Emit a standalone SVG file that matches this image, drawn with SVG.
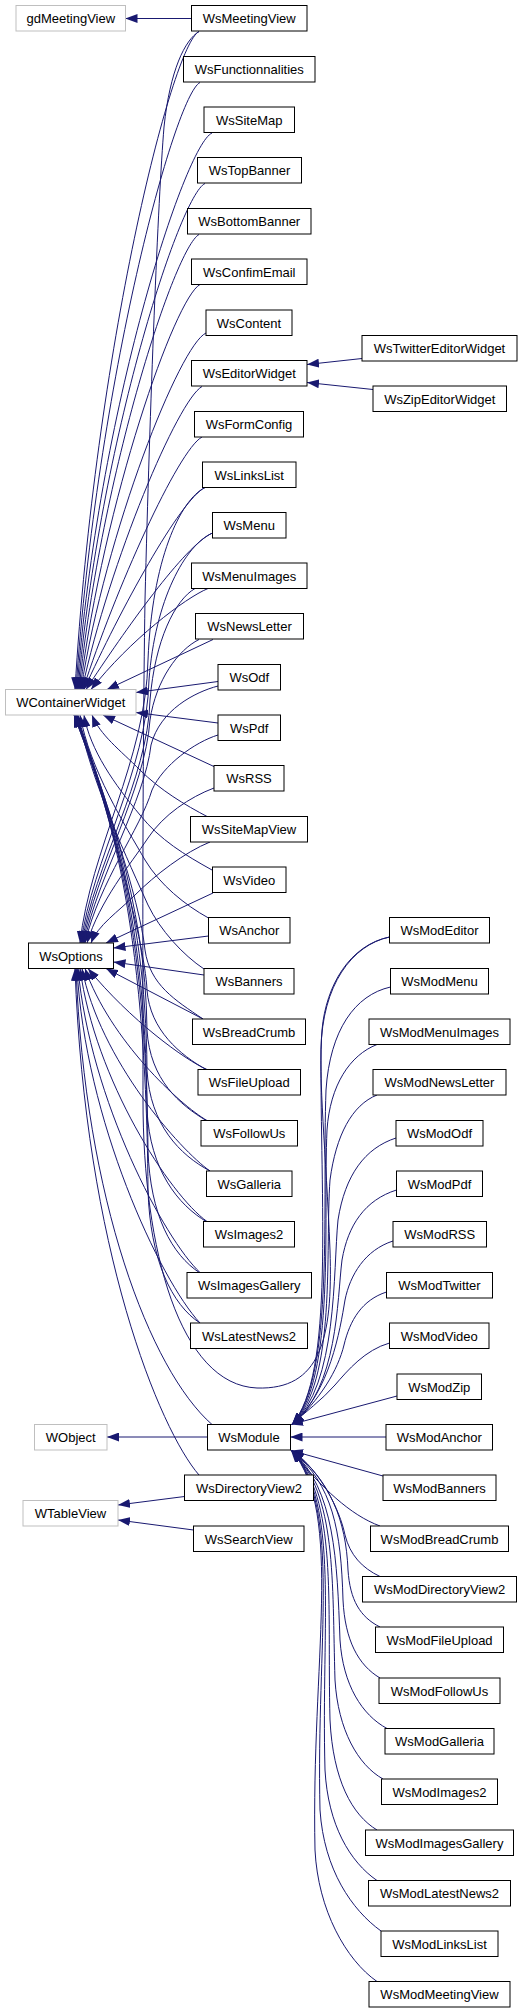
<svg xmlns="http://www.w3.org/2000/svg" width="531" height="2013" viewBox="0 0 531 2013">
<style>
.n rect{fill:#fff;stroke:#000;stroke-width:1}
.x rect{fill:#fff;stroke:#bfbfbf;stroke-width:1}
text{font-family:"Liberation Sans",Arial,sans-serif;font-size:13px;text-anchor:middle;fill:#000}
#edges path{fill:none;stroke:#191970;stroke-width:1;marker-end:url(#a)}
#edges path.na{marker-end:none}
</style>
<defs>
<marker id="a" viewBox="0 0 12 9" refX="12" refY="4.5" markerWidth="12" markerHeight="9" markerUnits="userSpaceOnUse" orient="auto"><path d="M0,0 L12,4.5 L0,9 Z" fill="#191970"/></marker>
</defs>
<rect width="531" height="2013" fill="#fff"/>
<g id="edges">
<path d="M191.5,18.5 L125.5,18.5"/>
<path d="M362,358.5 L307,364.5"/>
<path d="M373,389.5 L307,382.5"/>
<path d="M207.5,1437 L107,1437"/>
<path d="M184.5,1496.5 L118,1505"/>
<path d="M193.5,1530 L118,1520"/>
<path d="M199,31.5 C172,45 95,350 75,689.5"/>
<path d="M200,82.5 C175,95 97,380 76,689.5"/>
<path d="M212,133 C185,145 98,410 77,689.5"/>
<path d="M205,183.5 C180,195 100,440 78,689.5"/>
<path d="M199,234.5 C175,248 102,470 79,689.5"/>
<path d="M200,284.5 C175,298 104,500 80,689.5"/>
<path d="M206,333 C180,345 106,530 81,689.5"/>
<path d="M202,386.5 C178,400 110,560 82,689.5"/>
<path d="M202,437 C178,450 115,590 83,689.5"/>
<path d="M205,487.5 C180,500 120,610 84,689.5"/>
<path d="M212.5,533 C185,545 125,630 86,689.5"/>
<path d="M208,588.5 C185,598 130,640 91,689.5"/>
<path d="M213,639.5 L107,689.5"/>
<path d="M218,681.5 L136,692.5"/>
<path d="M218,723 L136,712.5"/>
<path d="M215,767 L103,715"/>
<path d="M208,817 C185,805 160,790 140,770 C120,750 100,735 92,715"/>
<path d="M212,870 C185,855 160,840 140,815 C115,785 90,750 84,715"/>
<path d="M208.5,918 C185,905 160,885 145,860 C125,825 90,770 80,715"/>
<path d="M204,969 C183,955 160,930 148,905 C130,865 90,780 78,715"/>
<path d="M203,1019 C175,1000 150,985 145,950 C140,900 102,790 77,715"/>
<path d="M207,1070 C180,1055 150,1030 147,990 C145,940 102,790 76,715"/>
<path d="M207,1121 C180,1105 150,1080 147,1030 C146,900 102,790 76,715"/>
<path d="M210,1171 C180,1155 150,1125 147,1070 C146,900 102,790 75,715"/>
<path d="M207,1222 C178,1205 150,1170 147,1110 C146,900 102,790 75,715"/>
<path d="M200,1273 C172,1255 150,1215 148,1150 C146,900 102,790 74,715"/>
<path d="M200,1323 C172,1305 150,1260 148,1190 C146,900 102,790 74,715"/>
<path d="M205,487.5 C180,500 152,560 148,660 C146,760 90,850 80,943"/>
<path d="M212.5,533 C185,545 155,600 149,680 C147,770 92,860 81,943"/>
<path d="M195,588.5 C175,600 155,640 150,700 C148,780 94,865 82,943"/>
<path d="M199,639.5 C178,650 156,680 150,720 C145,790 96,870 83,943"/>
<path d="M218,686 C195,692 160,710 151,745 C145,800 98,875 84,943"/>
<path d="M218,735 C195,742 163,765 152,790 C140,830 100,880 85,943"/>
<path d="M214,788 C190,797 163,815 148,838 C130,865 100,900 87,943"/>
<path d="M210,842 C185,852 155,875 135,895 C118,912 98,925 91,943"/>
<path d="M213,893 L106,943"/>
<path d="M208.5,936 L113.5,948"/>
<path d="M204,975 L113.5,962"/>
<path d="M203,1019 L106,968.5"/>
<path d="M207,1069.5 C185,1060 130,1020 88,968.5"/>
<path d="M207,1120.5 C180,1105 110,1040 85,968.5"/>
<path d="M210,1171 C180,1150 100,1060 82,968.5"/>
<path d="M207,1221.5 C170,1195 95,1080 80,968.5"/>
<path d="M200,1272.5 C165,1240 90,1100 78,968.5"/>
<path d="M200,1323 C160,1280 85,1120 77,968.5"/>
<path d="M212,1424.5 C150,1370 85,1200 76,968.5"/>
<path d="M199,1475 C160,1430 85,1250 75,968.5"/>
<path class="na" d="M199,31.5 C185,40 170,70 164,127 C158,200 150,400 145,600 C142,800 143,1000 143,1100 C143,1250 180,1385 257,1388 C320,1390 333,1340 330,1250 C326,1150 318,1080 322,1030 C326,985 350,945 389.5,937"/>
<path d="M389.5,937 C352,945 322,985 321,1050 C320,1200 335,1375 292,1424.5"/>
<path d="M390.5,987 C355,995 330,1030 326,1090 C322,1200 335,1378 292,1424.5"/>
<path d="M377,1044.5 C350,1055 330,1085 327,1130 C323,1220 336,1380 292,1424.5"/>
<path d="M377,1095 C352,1105 336,1135 330,1180 C325,1250 337,1382 292,1424.5"/>
<path d="M396,1138 C365,1148 345,1175 338,1220 C333,1270 338,1385 292,1424.5"/>
<path d="M396.5,1190 C365,1200 348,1225 342,1260 C337,1300 338,1388 292,1424.5"/>
<path d="M393,1241 C365,1250 350,1275 345,1300 C340,1330 330,1392 292,1424.5"/>
<path d="M386.5,1292 C362,1300 350,1320 344,1345 C338,1370 320,1400 292,1424.5"/>
<path d="M389.5,1343 C365,1350 348,1370 335,1385 C322,1400 305,1412 292,1424.5"/>
<path d="M397,1396 L291,1424.5"/>
<path d="M386,1437 L290.5,1437"/>
<path d="M383,1476 L291,1450.5"/>
<path d="M380,1526 C350,1515 322,1488 291,1450.5"/>
<path d="M380,1576.5 C362,1568 350,1555 345,1535 C340,1510 320,1470 292,1450.5"/>
<path d="M380,1627 C360,1617 350,1600 348,1570 C346,1520 330,1480 292,1450.5"/>
<path d="M380,1678 C358,1665 345,1640 343,1600 C341,1530 333,1485 292,1450.5"/>
<path d="M387,1728.5 C362,1715 343,1685 340,1640 C337,1560 335,1490 292,1450.5"/>
<path d="M383,1779 C358,1765 338,1730 335,1680 C332,1580 337,1495 292,1450.5"/>
<path d="M377,1830 C352,1815 333,1780 330,1720 C327,1600 338,1500 292,1450.5"/>
<path d="M377,1880.5 C350,1862 328,1825 325,1770 C321,1620 340,1505 292,1450.5"/>
<path d="M381,1931 C352,1910 324,1870 320,1810 C316,1640 342,1510 292,1450.5"/>
<path d="M377,1981.5 C346,1960 318,1910 315,1850 C311,1660 344,1515 292,1450.5"/>
</g>
<g id="gdMeetingView" class="x"><rect x="16" y="5.5" width="109.5" height="25.5"/><text x="70.75" y="23">gdMeetingView</text></g>
<g id="WContainerWidget" class="x"><rect x="5.5" y="689.5" width="130.5" height="25.5"/><text x="70.75" y="707">WContainerWidget</text></g>
<g id="WsOptions" class="n"><rect x="28.5" y="943" width="85" height="25.5"/><text x="71" y="960.5">WsOptions</text></g>
<g id="WObject" class="x"><rect x="34.5" y="1424.5" width="72.5" height="25.5"/><text x="70.75" y="1442">WObject</text></g>
<g id="WTableView" class="x"><rect x="23" y="1500.5" width="95" height="25.5"/><text x="70.5" y="1518">WTableView</text></g>
<g id="WsMeetingView" class="n"><rect x="191.5" y="5.5" width="115.5" height="25.5"/><text x="249.25" y="23">WsMeetingView</text></g>
<g id="WsFunctionnalities" class="n"><rect x="183.5" y="56.5" width="131.5" height="25.5"/><text x="249.25" y="74">WsFunctionnalities</text></g>
<g id="WsSiteMap" class="n"><rect x="204" y="107" width="90.5" height="25.5"/><text x="249.25" y="124.5">WsSiteMap</text></g>
<g id="WsTopBanner" class="n"><rect x="197.5" y="157.5" width="104" height="25.5"/><text x="249.5" y="175">WsTopBanner</text></g>
<g id="WsBottomBanner" class="n"><rect x="187.5" y="208.5" width="123.5" height="25.5"/><text x="249.25" y="226">WsBottomBanner</text></g>
<g id="WsConfimEmail" class="n"><rect x="191.5" y="259" width="115.5" height="25.5"/><text x="249.25" y="276.5">WsConfimEmail</text></g>
<g id="WsContent" class="n"><rect x="206" y="310" width="86" height="25.5"/><text x="249" y="327.5">WsContent</text></g>
<g id="WsEditorWidget" class="n"><rect x="191.5" y="360.5" width="115.5" height="25.5"/><text x="249.25" y="378">WsEditorWidget</text></g>
<g id="WsFormConfig" class="n"><rect x="194.5" y="411.5" width="109" height="25.5"/><text x="249" y="429">WsFormConfig</text></g>
<g id="WsLinksList" class="n"><rect x="202.5" y="462" width="93.5" height="25.5"/><text x="249.25" y="479.5">WsLinksList</text></g>
<g id="WsMenu" class="n"><rect x="212.5" y="512.5" width="73.5" height="25.5"/><text x="249.25" y="530">WsMenu</text></g>
<g id="WsMenuImages" class="n"><rect x="191.5" y="563" width="115.5" height="25.5"/><text x="249.25" y="580.5">WsMenuImages</text></g>
<g id="WsNewsLetter" class="n"><rect x="195.5" y="613.5" width="108" height="25.5"/><text x="249.5" y="631">WsNewsLetter</text></g>
<g id="WsOdf" class="n"><rect x="218" y="664.5" width="62.5" height="25.5"/><text x="249.25" y="682">WsOdf</text></g>
<g id="WsPdf" class="n"><rect x="218" y="715" width="62.5" height="25.5"/><text x="249.25" y="732.5">WsPdf</text></g>
<g id="WsRSS" class="n"><rect x="214" y="765.5" width="70" height="25.5"/><text x="249" y="783">WsRSS</text></g>
<g id="WsSiteMapView" class="n"><rect x="190.5" y="816.5" width="117" height="25.5"/><text x="249" y="834">WsSiteMapView</text></g>
<g id="WsVideo" class="n"><rect x="212.5" y="867" width="73.5" height="25.5"/><text x="249.25" y="884.5">WsVideo</text></g>
<g id="WsAnchor" class="n"><rect x="208.5" y="917.5" width="81.5" height="25.5"/><text x="249.25" y="935">WsAnchor</text></g>
<g id="WsBanners" class="n"><rect x="204" y="968.5" width="90" height="25.5"/><text x="249" y="986">WsBanners</text></g>
<g id="WsBreadCrumb" class="n"><rect x="192.5" y="1019" width="113" height="25.5"/><text x="249" y="1036.5">WsBreadCrumb</text></g>
<g id="WsFileUpload" class="n"><rect x="198" y="1069.5" width="102.5" height="25.5"/><text x="249.25" y="1087">WsFileUpload</text></g>
<g id="WsFollowUs" class="n"><rect x="201" y="1120.5" width="96.5" height="25.5"/><text x="249.25" y="1138">WsFollowUs</text></g>
<g id="WsGalleria" class="n"><rect x="206.5" y="1171" width="85.5" height="25.5"/><text x="249.25" y="1188.5">WsGalleria</text></g>
<g id="WsImages2" class="n"><rect x="203.5" y="1221.5" width="91" height="25.5"/><text x="249" y="1239">WsImages2</text></g>
<g id="WsImagesGallery" class="n"><rect x="187" y="1272.5" width="124.5" height="25.5"/><text x="249.25" y="1290">WsImagesGallery</text></g>
<g id="WsLatestNews2" class="n"><rect x="190.5" y="1323" width="117" height="25.5"/><text x="249" y="1340.5">WsLatestNews2</text></g>
<g id="WsModule" class="n"><rect x="207.5" y="1424.5" width="83" height="25.5"/><text x="249" y="1442">WsModule</text></g>
<g id="WsDirectoryView2" class="n"><rect x="184.5" y="1475" width="129" height="25.5"/><text x="249" y="1492.5">WsDirectoryView2</text></g>
<g id="WsSearchView" class="n"><rect x="193.5" y="1526" width="110.5" height="25.5"/><text x="248.75" y="1543.5">WsSearchView</text></g>
<g id="WsTwitterEditorWidget" class="n"><rect x="362" y="335.5" width="155" height="25.5"/><text x="439.5" y="353">WsTwitterEditorWidget</text></g>
<g id="WsZipEditorWidget" class="n"><rect x="373" y="386" width="133.5" height="25.5"/><text x="439.75" y="403.5">WsZipEditorWidget</text></g>
<g id="WsModEditor" class="n"><rect x="389.5" y="917.5" width="100" height="25.5"/><text x="439.5" y="935">WsModEditor</text></g>
<g id="WsModMenu" class="n"><rect x="390.5" y="968.5" width="98" height="25.5"/><text x="439.5" y="986">WsModMenu</text></g>
<g id="WsModMenuImages" class="n"><rect x="369" y="1019" width="141" height="25.5"/><text x="439.5" y="1036.5">WsModMenuImages</text></g>
<g id="WsModNewsLetter" class="n"><rect x="373" y="1069.5" width="133" height="25.5"/><text x="439.5" y="1087">WsModNewsLetter</text></g>
<g id="WsModOdf" class="n"><rect x="396" y="1120.5" width="87" height="25.5"/><text x="439.5" y="1138">WsModOdf</text></g>
<g id="WsModPdf" class="n"><rect x="396.5" y="1171" width="86" height="25.5"/><text x="439.5" y="1188.5">WsModPdf</text></g>
<g id="WsModRSS" class="n"><rect x="393" y="1221.5" width="93.5" height="25.5"/><text x="439.75" y="1239">WsModRSS</text></g>
<g id="WsModTwitter" class="n"><rect x="386.5" y="1272.5" width="106" height="25.5"/><text x="439.5" y="1290">WsModTwitter</text></g>
<g id="WsModVideo" class="n"><rect x="389.5" y="1323" width="99.5" height="25.5"/><text x="439.25" y="1340.5">WsModVideo</text></g>
<g id="WsModZip" class="n"><rect x="397" y="1374" width="84.5" height="25.5"/><text x="439.25" y="1391.5">WsModZip</text></g>
<g id="WsModAnchor" class="n"><rect x="386" y="1424.5" width="106.5" height="25.5"/><text x="439.25" y="1442">WsModAnchor</text></g>
<g id="WsModBanners" class="n"><rect x="383" y="1475" width="113" height="25.5"/><text x="439.5" y="1492.5">WsModBanners</text></g>
<g id="WsModBreadCrumb" class="n"><rect x="370.5" y="1526" width="138" height="25.5"/><text x="439.5" y="1543.5">WsModBreadCrumb</text></g>
<g id="WsModDirectoryView2" class="n"><rect x="362.5" y="1576.5" width="154" height="25.5"/><text x="439.5" y="1594">WsModDirectoryView2</text></g>
<g id="WsModFileUpload" class="n"><rect x="375.5" y="1627" width="128" height="25.5"/><text x="439.5" y="1644.5">WsModFileUpload</text></g>
<g id="WsModFollowUs" class="n"><rect x="379" y="1678" width="121" height="25.5"/><text x="439.5" y="1695.5">WsModFollowUs</text></g>
<g id="WsModGalleria" class="n"><rect x="385" y="1728.5" width="109" height="25.5"/><text x="439.5" y="1746">WsModGalleria</text></g>
<g id="WsModImages2" class="n"><rect x="381.5" y="1779" width="116" height="25.5"/><text x="439.5" y="1796.5">WsModImages2</text></g>
<g id="WsModImagesGallery" class="n"><rect x="365.5" y="1830" width="148" height="25.5"/><text x="439.5" y="1847.5">WsModImagesGallery</text></g>
<g id="WsModLatestNews2" class="n"><rect x="368.5" y="1880.5" width="142" height="25.5"/><text x="439.5" y="1898">WsModLatestNews2</text></g>
<g id="WsModLinksList" class="n"><rect x="381" y="1931" width="117" height="25.5"/><text x="439.5" y="1948.5">WsModLinksList</text></g>
<g id="WsModMeetingView" class="n"><rect x="369" y="1981.5" width="141" height="25.5"/><text x="439.5" y="1999">WsModMeetingView</text></g>
</svg>
